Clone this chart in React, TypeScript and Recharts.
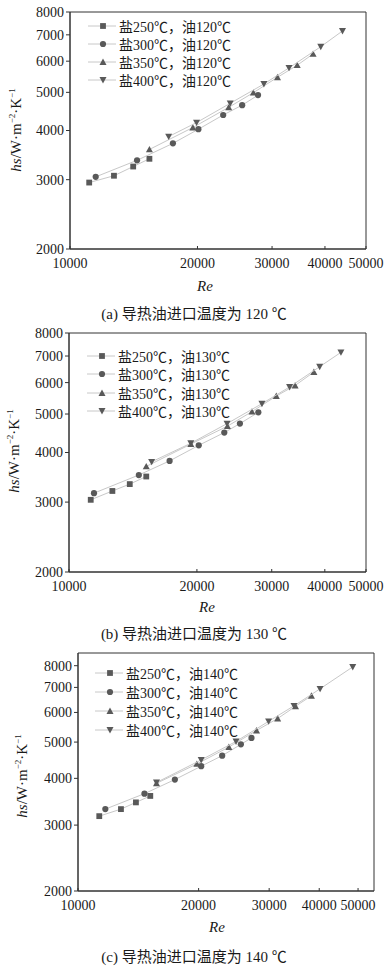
import React from 'react';
import { ScatterChart, Scatter, XAxis, YAxis, ReferenceArea } from 'recharts';

// series names and axis ticks
const saltLabels = ['盐250℃', '盐300℃', '盐350℃', '盐400℃'];
const oilTemps = [120, 130, 140];
const panelTags = ['(a)', '(b)', '(c)'];
const reTicks = [10000, 20000, 30000, 40000, 50000];
const hsTicks = [2000, 3000, 4000, 5000, 6000, 7000, 8000];

// [Re, hs], oil inlet 120 ℃
const oil120Salt250 = [[11100, 2950], [12700, 3070], [14100, 3240], [15400, 3390]];
const oil120Salt300 = [[11500, 3050], [14400, 3360], [17500, 3710], [20100, 4030], [23000, 4380], [25500, 4640], [27800, 4920]];
const oil120Salt350 = [[15400, 3580], [19500, 4070], [23700, 4580], [27100, 4990], [30900, 5460], [34400, 5860], [37500, 6260]];
const oil120Salt400 = [[17100, 3860], [19900, 4190], [23900, 4690], [28700, 5250], [32900, 5770], [39100, 6530], [44000, 7160]];

// oil inlet 130 ℃
const oil130Salt250 = [[11250, 3040], [12650, 3200], [13900, 3330], [15200, 3480]];
const oil130Salt300 = [[11450, 3160], [14600, 3510], [17250, 3810], [20200, 4170], [23200, 4490], [25250, 4730], [27900, 5050]];
const oil130Salt350 = [[15200, 3690], [19350, 4200], [23600, 4660], [26950, 5070], [30750, 5550], [34050, 5900], [37700, 6380]];
const oil130Salt400 = [[15650, 3790], [19350, 4220], [23550, 4730], [28450, 5310], [33050, 5850], [38900, 6580], [43650, 7150]];

// oil inlet 140 ℃
const oil140Salt250 = [[11300, 3170], [12800, 3310], [13950, 3450], [15150, 3590]];
const oil140Salt300 = [[11700, 3310], [14650, 3640], [17450, 3970], [20300, 4310], [22900, 4600], [25500, 4930], [27100, 5130]];
const oil140Salt350 = [[15700, 3880], [19800, 4370], [23800, 4850], [27900, 5370], [31500, 5780], [34900, 6230], [38250, 6650]];
const oil140Salt400 = [[15700, 3900], [20300, 4480], [24800, 5020], [29900, 5680], [34600, 6250], [40200, 6940], [48500, 7940]];

const panelSeries = [
  [oil120Salt250, oil120Salt300, oil120Salt350, oil120Salt400],
  [oil130Salt250, oil130Salt300, oil130Salt350, oil130Salt400],
  [oil140Salt250, oil140Salt300, oil140Salt350, oil140Salt400],
];

const FONT = "'Liberation Serif', 'Noto Sans CJK SC', serif";
const MARK = '#595959';
const LINE = '#c8c8c8';
const AXIS = '#333';
const TEXT = '#1a1a1a';
const KINDS = ['square', 'circle', 'triangle', 'down'];
const X_GAP = 9;

// layout only (page coordinates)
const layout = [
  { top: 0, margin: { top: 12, right: 24, left: 10, bottom: 21 }, xMax: 50000, yMax: 8000, yLab: [16, 130], re: [205, 286], cap: [194, 312], leg: [88, 26, 18] },
  { top: 320, margin: { top: 13, right: 24, left: 9, bottom: 18 }, xMax: 50000, yMax: 8000, yLab: [14, 451], re: [207, 607], cap: [194, 632], leg: [87, 356, 18.3] },
  { top: 640, margin: { top: 13, right: 16, left: 18, bottom: 19 }, xMax: 54800, yMax: 8650, yLab: [22, 776], re: [217, 927], cap: [194, 955], leg: [95, 673, 19] },
];

function Marker({ kind, cx, cy }: any) {
  const r = 2.9;
  if (kind === 'square') return <rect x={cx - r} y={cy - r} width={r * 2} height={r * 2} fill={MARK} />;
  if (kind === 'circle') return <circle cx={cx} cy={cy} r={r + 0.2} fill={MARK} />;
  if (kind === 'triangle')
    return <polygon points={`${cx},${cy - r - 0.6} ${cx + r + 0.6},${cy + r} ${cx - r - 0.6},${cy + r}`} fill={MARK} />;
  return <polygon points={`${cx},${cy + r + 0.6} ${cx + r + 0.6},${cy - r} ${cx - r - 0.6},${cy - r}`} fill={MARK} />;
}

// x ticks point inward, labels sit below the axis
const XTick = ({ x, y, payload }: any) => (
  <g>
    <line x1={x} x2={x} y1={y - X_GAP} y2={y - X_GAP - 3} stroke={AXIS} />
    <text x={x} y={y} dy="0.71em" textAnchor="middle" fill={TEXT} fontSize={14} fontFamily={FONT}>
      {payload.value}
    </text>
  </g>
);

function Panel({ idx }: { idx: number }) {
  const L = layout[idx];
  const series = panelSeries[idx];
  return (
    <div style={{ position: 'absolute', left: 0, top: L.top }}>
      <ScatterChart width={390} height={300} margin={L.margin}>
        <XAxis
          type="number"
          dataKey="re"
          scale="log"
          domain={[10000, L.xMax]}
          allowDataOverflow
          ticks={reTicks}
          interval={0}
          height={30}
          tickSize={0}
          tickMargin={X_GAP}
          tickLine={false}
          tick={<XTick />}
          axisLine={{ stroke: AXIS }}
        />
        <YAxis
          type="number"
          dataKey="hs"
          scale="log"
          domain={[2000, L.yMax]}
          allowDataOverflow
          ticks={hsTicks}
          interval={0}
          width={60}
          tickSize={4}
          tickMargin={2}
          tickLine={{ stroke: AXIS }}
          axisLine={{ stroke: AXIS }}
          tick={{ fill: TEXT, fontSize: 14, fontFamily: FONT }}
        />
        <ReferenceArea x1={10000} x2={L.xMax} y1={2000} y2={L.yMax} fill="none" stroke={AXIS} ifOverflow="visible" />
        {series.map((pts, i) => (
          <Scatter
            key={i}
            name={`${saltLabels[i]}，油${oilTemps[idx]}℃`}
            data={pts.map(([re, hs]) => ({ re, hs }))}
            fill={MARK}
            line={{ stroke: LINE, strokeWidth: 1 }}
            lineType="joint"
            shape={(p: any) => <Marker kind={KINDS[i]} cx={p.cx} cy={p.cy} />}
            isAnimationActive={false}
          />
        ))}
      </ScatterChart>
    </div>
  );
}

function Legend({ idx }: { idx: number }) {
  const [lx, ly, gap] = layout[idx].leg;
  return (
    <>
      {saltLabels.map((s, i) => (
        <div
          key={i}
          style={{ position: 'absolute', left: lx, top: ly + i * gap - 9, height: 18, display: 'flex', alignItems: 'center', whiteSpace: 'nowrap' }}
        >
          <svg width={30} height={18}>
            <line x1={0} x2={28} y1={9} y2={9} stroke={LINE} />
            <Marker kind={KINDS[i]} cx={15} cy={9} />
          </svg>
          <span style={{ fontSize: 14, color: TEXT, marginLeft: 1 }}>{`${s}，油${oilTemps[idx]}℃`}</span>
        </div>
      ))}
    </>
  );
}

const centered = (x: number, y: number): React.CSSProperties => ({
  position: 'absolute',
  left: x,
  top: y,
  transform: 'translate(-50%, -50%)',
  whiteSpace: 'nowrap',
});

export default function App() {
  return (
    <div style={{ position: 'absolute', left: 0, top: 0, width: 390, height: 968, background: '#fff', fontFamily: FONT, color: TEXT }}>
      {layout.map((L, idx) => (
        <React.Fragment key={idx}>
          <Panel idx={idx} />
          <Legend idx={idx} />
          <div style={{ ...centered(L.yLab[0], L.yLab[1]), transform: 'translate(-50%, -50%) rotate(-90deg)', fontSize: 15 }}>
            <i>hs</i>/W·m<sup style={{ fontSize: 9 }}>−2</sup>·K<sup style={{ fontSize: 9 }}>−1</sup>
          </div>
          <div style={{ ...centered(L.re[0], L.re[1]), fontSize: 15, fontStyle: 'italic' }}>Re</div>
          <div style={{ ...centered(L.cap[0], L.cap[1]), fontSize: 15 }}>
            {`${panelTags[idx]} 导热油进口温度为 ${oilTemps[idx]} ℃`}
          </div>
        </React.Fragment>
      ))}
    </div>
  );
}
